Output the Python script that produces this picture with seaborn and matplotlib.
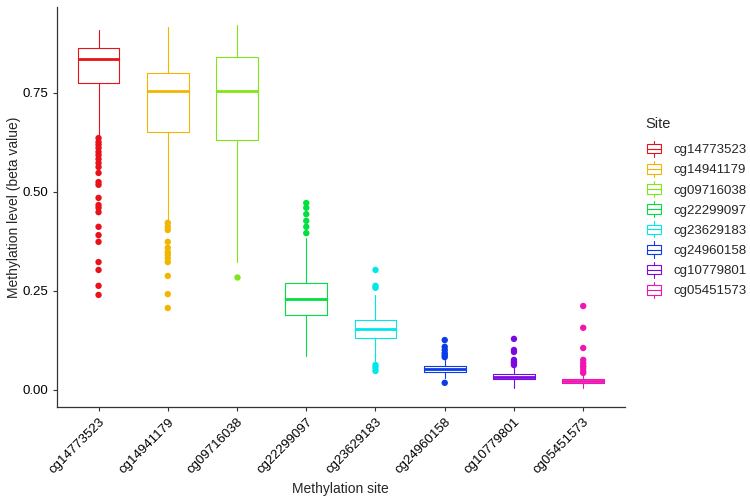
import matplotlib
matplotlib.use("Agg")
import matplotlib.pyplot as plt
import seaborn as sns
import pandas as pd
from matplotlib.legend_handler import HandlerBase
from matplotlib.patches import Rectangle
from matplotlib.lines import Line2D

# data
sites = ["cg14773523", "cg14941179", "cg09716038", "cg22299097",
         "cg23629183", "cg24960158", "cg10779801", "cg05451573"]
colors = ["#E8131A", "#F2B600", "#80E61A", "#00E040",
          "#00E8E8", "#0A3CE8", "#7A0AE0", "#F014B4"]

q1 = [0.774, 0.652, 0.631, 0.189, 0.131, 0.045, 0.028, 0.018]
median = [0.836, 0.755, 0.755, 0.230, 0.154, 0.053, 0.033, 0.023]
q3 = [0.864, 0.801, 0.841, 0.270, 0.177, 0.061, 0.040, 0.028]
whisker_lo = [0.640, 0.429, 0.323, 0.086, 0.073, 0.030, 0.005, 0.005]
whisker_hi = [0.909, 0.917, 0.922, 0.384, 0.240, 0.076, 0.058, 0.038]

outliers = {
    "cg14773523": [0.636, 0.626, 0.619, 0.611, 0.601, 0.593, 0.583, 0.573,
                   0.563, 0.548, 0.525, 0.518, 0.485, 0.467, 0.460, 0.449,
                   0.412, 0.391, 0.374, 0.323, 0.303, 0.263, 0.240],
    "cg14941179": [0.422, 0.412, 0.404, 0.374, 0.359, 0.348, 0.341, 0.333,
                   0.323, 0.288, 0.242, 0.207],
    "cg09716038": [0.285],
    "cg22299097": [0.472, 0.460, 0.444, 0.427, 0.412, 0.396],
    "cg23629183": [0.303, 0.263, 0.258, 0.063, 0.056, 0.048],
    "cg24960158": [0.126, 0.109, 0.101, 0.093, 0.088, 0.083, 0.018],
    "cg10779801": [0.129, 0.101, 0.096, 0.076, 0.071, 0.068, 0.063],
    "cg05451573": [0.212, 0.157, 0.106, 0.076, 0.068, 0.061, 0.056, 0.048, 0.043],
}

sns.set_theme(style="ticks")
plt.rcParams["font.family"] = ["Liberation Sans", "DejaVu Sans"]

fig = plt.figure(figsize=(7.5, 5), dpi=100)
ax = fig.add_axes([0.076, 0.186, 0.757, 0.80])

# boxes from the summary stats
for i, s in enumerate(sites):
    st = [dict(q1=q1[i], med=median[i], q3=q3[i],
               whislo=whisker_lo[i], whishi=whisker_hi[i], fliers=[])]
    c = colors[i]
    ax.bxp(st, positions=[i], widths=0.6, showcaps=False, showfliers=False,
           manage_ticks=False,
           boxprops=dict(color=c, linewidth=0.8),
           whiskerprops=dict(color=c, linewidth=0.8),
           medianprops=dict(color=c, linewidth=2.0))

# outlier points
rows = [(s, v) for s in sites for v in outliers[s]]
df = pd.DataFrame(rows, columns=["Site", "value"])
sns.stripplot(data=df, x="Site", y="value", hue="Site", order=sites,
              hue_order=sites, palette=colors, jitter=False, size=4.6,
              linewidth=0, legend=False, ax=ax)

ax.set_xlim(-0.6, len(sites) - 0.4)
ax.set_ylim(-0.043, 0.967)
ax.set_yticks([0, 0.25, 0.5, 0.75])
ax.set_yticklabels(["0.00", "0.25", "0.50", "0.75"])
ax.set_xticks(range(len(sites)))
ax.set_xticklabels(sites, rotation=45, ha="right", rotation_mode="anchor")
ax.tick_params(axis="both", labelsize=9.5, colors="#333333", length=3,
               width=0.8, labelcolor="black")
ax.set_xlabel("Methylation site", fontsize=10)
ax.set_ylabel("Methylation level (beta value)", fontsize=10, labelpad=1)
for sp in ["top", "right"]:
    ax.spines[sp].set_visible(False)
for sp in ["left", "bottom"]:
    ax.spines[sp].set_color("#333333")
    ax.spines[sp].set_linewidth(0.9)


class BoxKey(HandlerBase):
    def create_artists(self, legend, orig_handle, xdescent, ydescent,
                       width, height, fontsize, trans):
        c = orig_handle.get_color()
        w = width * 0.8
        x0 = (width - w) / 2 - xdescent
        y0 = -ydescent
        box = Rectangle((x0, y0 + height * 0.15), w, height * 0.7,
                        facecolor="white", edgecolor=c, lw=0.8, transform=trans)
        med = Line2D([x0, x0 + w], [y0 + height / 2] * 2, color=c, lw=0.8,
                     transform=trans)
        wh1 = Line2D([width / 2 - xdescent] * 2, [y0 - height * 0.1, y0 + height * 0.15],
                     color=c, lw=0.8, transform=trans)
        wh2 = Line2D([width / 2 - xdescent] * 2, [y0 + height * 0.85, y0 + height * 1.1],
                     color=c, lw=0.8, transform=trans)
        return [box, med, wh1, wh2]


handles = [Line2D([], [], color=c) for c in colors]
leg = fig.legend(handles, sites, title="Site", loc="upper left",
                 bbox_to_anchor=(0.845, 0.79), frameon=False, fontsize=9.5,
                 title_fontsize=10.5, handler_map={Line2D: BoxKey()},
                 handlelength=1.3, handleheight=1.2, labelspacing=0.45,
                 handletextpad=0.8, alignment="left")
leg._legend_box.sep = 8

fig.savefig("out.png", dpi=100)
